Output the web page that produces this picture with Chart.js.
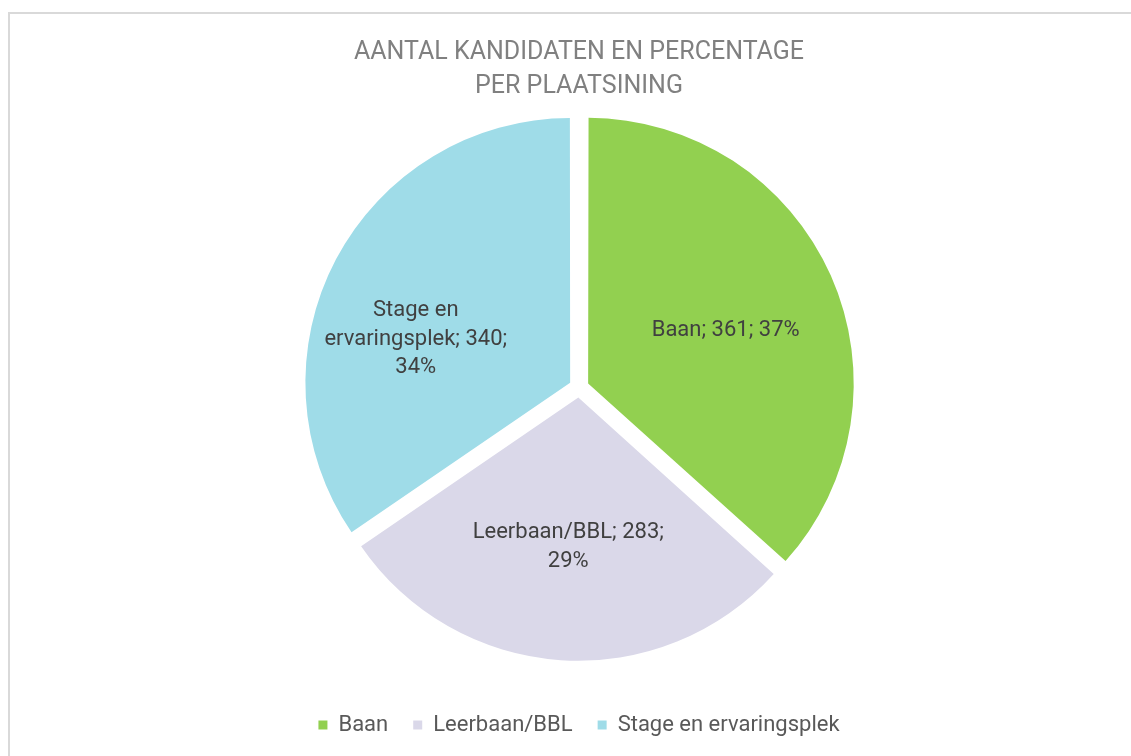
<!DOCTYPE html>
<html lang="nl">
<head>
<meta charset="utf-8">
<title>Aantal kandidaten en percentage per plaatsining</title>
<script src="https://cdn.jsdelivr.net/npm/chart.js@4.4.1/dist/chart.umd.min.js"></script>
<style>
  html, body { margin: 0; padding: 0; background: #fff; overflow: hidden; }
  .kader {
    position: absolute; left: 8px; top: 12px;
    width: 1160px; height: 780px;
    border: 2px solid #d9d9d9;
  }
  #grafiek { position: absolute; left: 0; top: 0; }
</style>
</head>
<body>
<div class="kader"></div>
<canvas id="grafiek" width="1131" height="746"></canvas>
<script>
/* ============================================================
   DATA
============================================================ */
const categorieen = ["Baan", "Leerbaan/BBL", "Stage en ervaringsplek"];
const aantallen = [361, 283, 340];
const percentages = [37, 29, 34]; // zoals in de grafiek afgedrukt
const titel = ["AANTAL KANDIDATEN EN PERCENTAGE", "PER PLAATSINING"];

const kleuren = ["#92d050", "#dad8e9", "#9fdce8"];

// positie van de labels binnen de taartpunt: hoekverschuiving (graden) en afstand (deel van straal)
const labelHoek = [3, 0, -12];
const labelAfstand = [0.56, 0.57, 0.61];
const labelBreedte = [300, 210, 195];

/* ============================================================
   LABELS IN DE TAART (eigen plugin)
============================================================ */
function afbreken(ctx, tekst, maxBreedte) {
  const woorden = tekst.split(" ");
  const regels = [];
  let regel = "";
  woorden.forEach((w) => {
    const test = regel ? regel + " " + w : w;
    if (regel && ctx.measureText(test).width > maxBreedte) {
      regels.push(regel);
      regel = w;
    } else {
      regel = test;
    }
  });
  if (regel) regels.push(regel);
  return regels;
}

const labelsInTaart = {
  id: "labelsInTaart",
  afterDatasetsDraw(chart) {
    const ctx = chart.ctx;
    const meta = chart.getDatasetMeta(0);
    ctx.save();
    ctx.font = "22px Roboto";
    ctx.fillStyle = "#404040";
    ctx.textAlign = "center";
    ctx.textBaseline = "middle";
    meta.data.forEach((arc, i) => {
      const p = arc.getProps(["x", "y", "startAngle", "endAngle", "outerRadius"], true);
      const midden = (p.startAngle + p.endAngle) / 2;
      const off = (arc.options.offset || 0) / 4; // Chart.js tekent offset / 4
      const hoek = midden + (labelHoek[i] * Math.PI) / 180;
      const r = p.outerRadius * labelAfstand[i];
      const cx = p.x + off * Math.cos(midden) + r * Math.cos(hoek);
      const cy = p.y + off * Math.sin(midden) + r * Math.sin(hoek);
      const tekst = `${categorieen[i]}; ${aantallen[i]}; ${percentages[i]}%`;
      const regels = afbreken(ctx, tekst, labelBreedte[i]);
      const lh = 28.5;
      regels.forEach((regel, j) => {
        ctx.fillText(regel, cx, cy + (j - (regels.length - 1) / 2) * lh);
      });
    });
    ctx.restore();
  },
};

/* ============================================================
   GRAFIEK
============================================================ */
new Chart(document.getElementById("grafiek"), {
  type: "pie",
  data: {
    labels: categorieen,
    datasets: [
      {
        data: aantallen,
        backgroundColor: kleuren,
        borderWidth: 0,
        offset: 40,
        hoverOffset: 40,
        radius: 263,
      },
    ],
  },
  options: {
    responsive: false,
    animation: false,
    layout: { padding: { left: 27, right: 0, top: 0, bottom: 0 } },
    plugins: {
      tooltip: { enabled: false },
      title: {
        display: true,
        text: titel,
        color: "#808080",
        font: { family: "Roboto", size: 25, weight: "normal", lineHeight: 1.34 },
        padding: { top: 36, bottom: -17 },
      },
      legend: {
        position: "bottom",
        labels: {
          boxWidth: 9,
          boxHeight: 9,
          padding: 25,
          color: "#595959",
          font: { family: "Roboto", size: 22 },
        },
      },
    },
  },
  plugins: [labelsInTaart],
});
</script>
</body>
</html>
